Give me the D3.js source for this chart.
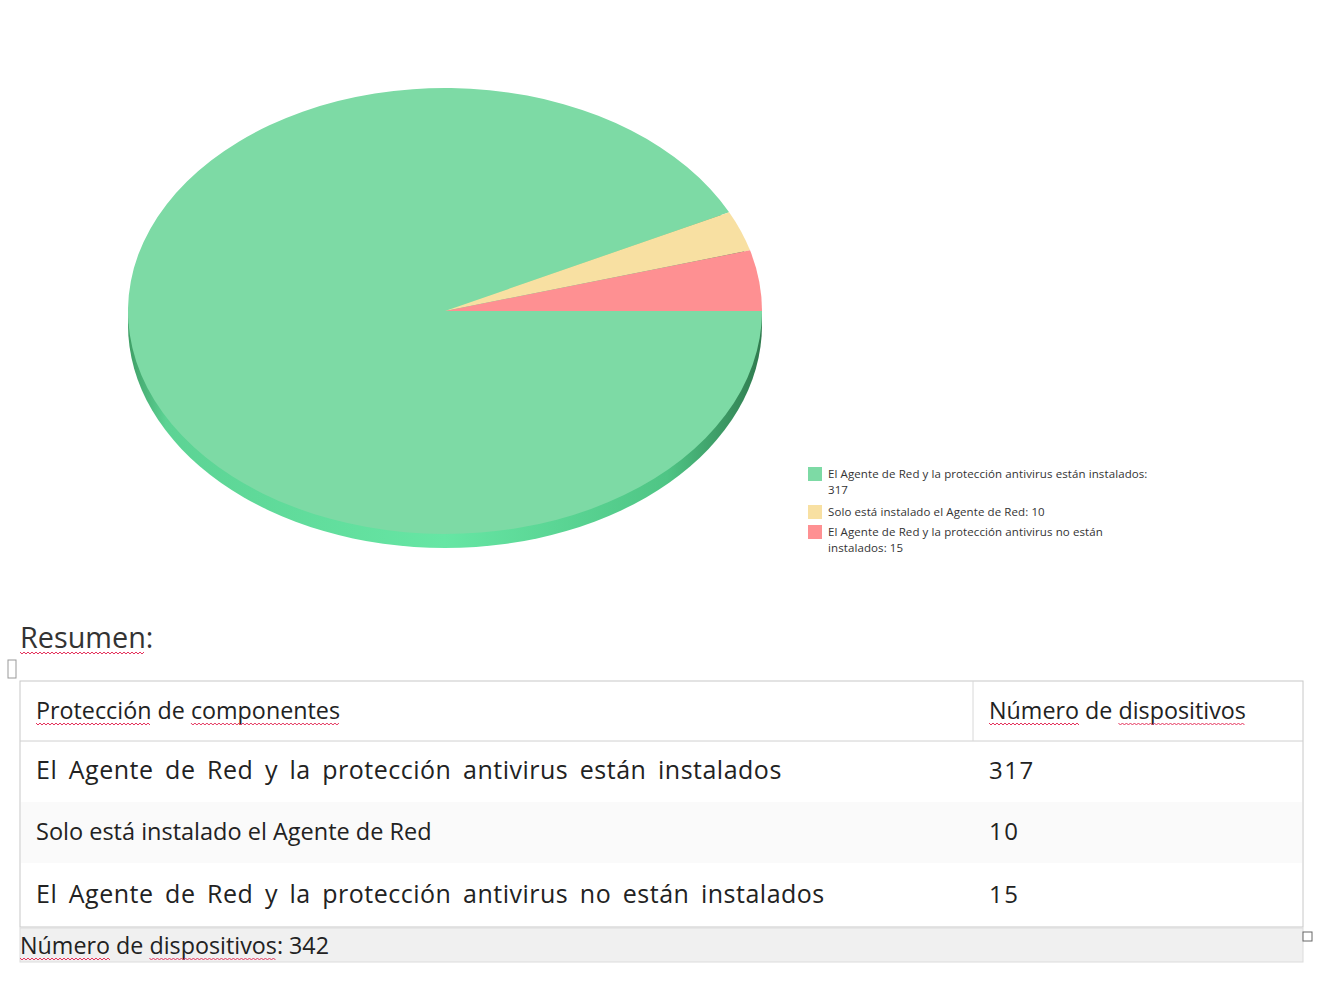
<!DOCTYPE html>
<html>
<head>
<meta charset="utf-8">
<script type="text/javascript" src="https://cdn.jsdelivr.net/npm/d3@7"></script>
<style>
  body { margin: 0; background: #fff; }
  text { font-family: "Open Sans", "Noto Sans", sans-serif; }
</style>
</head>
<body>
<script type="text/javascript">
var w = 1321;
var h = 986;

var categories = [
  "El Agente de Red y la protección antivirus están instalados",
  "Solo está instalado el Agente de Red",
  "El Agente de Red y la protección antivirus no están instalados"
];
var values = [317, 10, 15];
var colors = ["#7ddaa5", "#f8e0a2", "#fe9092"];
var legendLines = [
  ["El Agente de Red y la protección antivirus están instalados:", "317"],
  ["Solo está instalado el Agente de Red: 10"],
  ["El Agente de Red y la protección antivirus no están", "instalados: 15"]
];
var headers = ["Protección de componentes", "Número de dispositivos"];
var totalLabel = "Número de dispositivos: ";

var pie = { cx: 445, cy: 311, rx: 317, ry: 223, depth: 14 };

var svg = d3.select("body").append("svg")
  .attr("width", w)
  .attr("height", h);

var defs = svg.append("defs");
var grad = defs.append("linearGradient").attr("id", "side")
  .attr("x1", "0").attr("x2", "1").attr("y1", "0").attr("y2", "0");
grad.append("stop").attr("offset", "0").attr("stop-color", "#3f9e66");
grad.append("stop").attr("offset", "0.06").attr("stop-color", "#5cd394");
grad.append("stop").attr("offset", "0.5").attr("stop-color", "#66e6a4");
grad.append("stop").attr("offset", "0.85").attr("stop-color", "#4fc585");
grad.append("stop").attr("offset", "1").attr("stop-color", "#2f7a4e");

// pie: d3 arcs squashed into an ellipse
var arcs = d3.pie().sort(null)
  .startAngle(Math.PI / 2 - 2 * Math.PI)
  .endAngle(Math.PI / 2)(values);

var arc = d3.arc().innerRadius(0).outerRadius(pie.rx);

var pieG = svg.append("g")
  .attr("transform", "translate(" + pie.cx + "," + pie.cy + ") scale(1," + (pie.ry / pie.rx) + ")");

// side wall
pieG.append("ellipse")
  .attr("cx", 0).attr("cy", pie.depth * pie.rx / pie.ry)
  .attr("rx", pie.rx).attr("ry", pie.rx)
  .attr("fill", "url(#side)");

pieG.selectAll("path.slice")
  .data(arcs)
  .enter().append("path")
  .attr("class", "slice")
  .attr("d", arc)
  .attr("fill", function (d, i) { return colors[i]; });

// legend
var legend = svg.append("g").attr("transform", "translate(808,467)");
var ly = 0;
legendLines.forEach(function (lines, i) {
  legend.append("rect")
    .attr("x", 0).attr("y", ly)
    .attr("width", 14).attr("height", 14)
    .attr("fill", colors[i]);
  lines.forEach(function (t, j) {
    legend.append("text")
      .attr("x", 20).attr("y", ly + 11 + j * 16)
      .attr("font-size", 11.5)
      .attr("letter-spacing", 0.1)
      .attr("fill", "#333")
      .text(t);
  });
  ly += lines.length == 2 ? 38 : 20;
});

// red squiggle under a text element
function squiggle(x0, x1, y) {
  var pts = [];
  for (var x = x0, k = 0; x <= x1; x += 2, k++) pts.push([x, y + (k % 2 ? 2 : 0)]);
  svg.append("path")
    .attr("d", d3.line()(pts))
    .attr("fill", "none")
    .attr("stroke", "#e5335c")
    .attr("stroke-width", 1);
}

function underlineWords(node, words) {
  var el = node.node();
  var full = el.textContent;
  var x = +node.attr("x");
  var y = +node.attr("y") + 4;
  var pos = 0;
  words.forEach(function (wd) {
    var idx = full.indexOf(wd, pos);
    var x0 = x + (idx > 0 ? el.getSubStringLength(0, idx) : 0);
    var x1 = x0 + el.getSubStringLength(idx, wd.length);
    squiggle(x0, x1, y);
    pos = idx + wd.length;
  });
}

// summary title
var title = svg.append("text")
  .attr("x", 20).attr("y", 648)
  .attr("font-size", 28.8)
  .attr("fill", "#333")
  .text("Resumen:");
underlineWords(title, ["Resumen"]);

// table
var tx0 = 20, tx1 = 1303, colX = 973;
var rowY = [681, 741, 801, 862, 927];

svg.append("rect")
  .attr("x", tx0).attr("y", rowY[0])
  .attr("width", tx1 - tx0).attr("height", rowY[4] - rowY[0])
  .attr("fill", "#fff")
  .attr("stroke", "#c8c8c8");
svg.append("rect")
  .attr("x", tx0 + 1).attr("y", rowY[2] + 1)
  .attr("width", tx1 - tx0 - 2).attr("height", rowY[3] - rowY[2])
  .attr("fill", "#fafafa");
svg.append("line")
  .attr("x1", tx0).attr("x2", tx1)
  .attr("y1", rowY[1]).attr("y2", rowY[1])
  .attr("stroke", "#d0d0d0");
svg.append("line")
  .attr("x1", colX).attr("x2", colX)
  .attr("y1", rowY[0]).attr("y2", rowY[1])
  .attr("stroke", "#d8d8d8");

var h1 = svg.append("text")
  .attr("x", 36).attr("y", 719)
  .attr("font-size", 23.3)
  .attr("fill", "#222")
  .text(headers[0]);
underlineWords(h1, ["Protección", "componentes"]);
var h2 = svg.append("text")
  .attr("x", 989).attr("y", 719)
  .attr("font-size", 23.3)
  .attr("fill", "#222")
  .text(headers[1]);
underlineWords(h2, ["Número", "dispositivos"]);

var rowSizes = [25, 23.5, 25];
var rowWordSp = [4.6, 0, 4.6];
var rowLetterSp = [0.5, 0, 0.5];
categories.forEach(function (c, i) {
  var yMid = (rowY[i + 1] + rowY[i + 2]) / 2;
  svg.append("text")
    .attr("x", 36).attr("y", yMid + 8)
    .attr("font-size", rowSizes[i])
    .attr("word-spacing", rowWordSp[i])
    .attr("letter-spacing", rowLetterSp[i])
    .attr("fill", "#222")
    .text(c);
  svg.append("text")
    .attr("x", 989).attr("y", yMid + 8)
    .attr("font-size", 24)
    .attr("letter-spacing", 1.5)
    .attr("fill", "#222")
    .text(values[i]);
});

// total bar
svg.append("rect")
  .attr("x", tx0).attr("y", 928)
  .attr("width", tx1 - tx0).attr("height", 34)
  .attr("fill", "#f0f0f0")
  .attr("stroke", "#dcdcdc");
var tot = svg.append("text")
  .attr("x", 20).attr("y", 954)
  .attr("font-size", 23.3)
  .attr("fill", "#222")
  .text(totalLabel + d3.sum(values));
underlineWords(tot, ["Número", "dispositivos"]);

// small handles
svg.append("rect").attr("x", 8).attr("y", 660).attr("width", 8).attr("height", 18)
  .attr("fill", "#fff").attr("stroke", "#999");
svg.append("rect").attr("x", 1303).attr("y", 932).attr("width", 9).attr("height", 9)
  .attr("fill", "#fff").attr("stroke", "#666");
</script>
</body>
</html>
